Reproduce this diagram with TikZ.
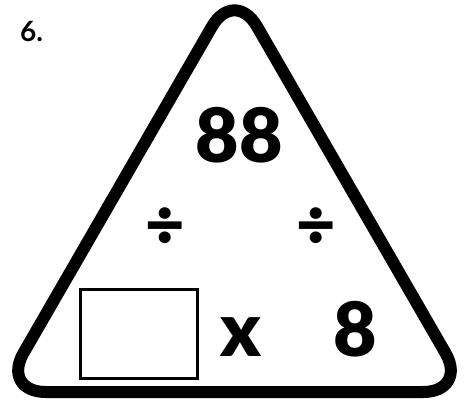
\documentclass[tikz,border=0pt]{standalone}
\usepackage{fontspec}
\setmainfont{Lato}
\newfontfamily\heavy{Lato Black}
\usetikzlibrary{positioning}

\begin{document}
\begin{tikzpicture}[
    x=1pt, y=-1pt,
    frame/.style={line width=12pt, line join=round, rounded corners=45pt},
    digit/.style={font=\heavy\fontsize{75}{75}\selectfont, inner sep=0pt, anchor=base},
    divsign/.style={font=\heavy\fontsize{68}{68}\selectfont, inner sep=0pt},
    answer/.style={draw, line width=3pt, minimum width=117pt, minimum height=89pt, inner sep=0pt}
]
    \useasboundingbox (0,0) rectangle (465,401);

    % Triangle corners
    \coordinate (apex) at (234.5,-12.5);
    \coordinate (left) at (1,392);
    \coordinate (right) at (468,392);
    \coordinate (base) at (234.5,392);
    \draw[frame] (base) -- (right) -- (apex) -- (left) -- cycle;

    % Question number
    \node[font=\bfseries\fontsize{28}{28}\selectfont, inner sep=0pt, anchor=base west] (num) at (20,42) {6.};

    % Fact family
    \node[digit] (prod) at (239,162) {88};
    \node[divsign] (divl) at (165,228) {÷};
    \node[divsign] (divr) at (316,228) {÷};
    \node[answer] (blank) at (138.5,333.5) {};
    \node[digit] (times) at (241,356) {x};
    \node[digit] (fact) at (355,356) {8};
\end{tikzpicture}
\end{document}
